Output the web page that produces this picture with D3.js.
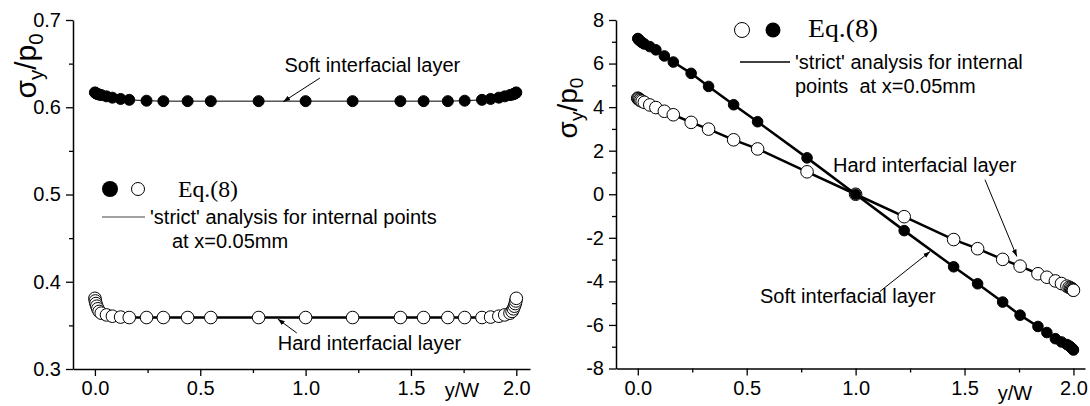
<!DOCTYPE html>
<html><head><meta charset="utf-8">
<script src="https://cdn.jsdelivr.net/npm/d3@7"></script>
<style>
html,body{margin:0;padding:0;background:#fff;}
svg text{fill:#000;}
</style></head>
<body><svg id="c" width="1090" height="406" font-family="Liberation Sans, Arial, sans-serif"></svg>
<script>
// ---------- data ----------
const yw = [0, 0.002, 0.005, 0.009, 0.014, 0.02, 0.03, 0.055, 0.083, 0.122, 0.163, 0.245, 0.325, 0.44, 0.55, 0.777, 1.0,
            1.223, 1.45, 1.56, 1.675, 1.755, 1.837, 1.878, 1.917, 1.945, 1.97, 1.98, 1.986, 1.991, 1.995, 1.998, 2.0];
const leftSoft = [0.617, 0.6165, 0.616, 0.6155, 0.615, 0.6145, 0.614, 0.6125, 0.611, 0.6095, 0.6085, 0.6075, 0.607, 0.607, 0.607, 0.607, 0.607,
                  0.607, 0.607, 0.607, 0.607, 0.6075, 0.6085, 0.6095, 0.611, 0.6125, 0.614, 0.6145, 0.615, 0.6155, 0.616, 0.6165, 0.617];
const leftHard = [0.381, 0.378, 0.375, 0.372, 0.369, 0.366, 0.364, 0.362, 0.3605, 0.3595, 0.359, 0.359, 0.359, 0.359, 0.359, 0.359, 0.359,
                  0.359, 0.359, 0.359, 0.359, 0.359, 0.359, 0.3595, 0.3605, 0.362, 0.364, 0.366, 0.369, 0.372, 0.375, 0.378, 0.381];
const rightSoft = [7.15, 7.12, 7.09, 7.05, 7.01, 6.96, 6.9, 6.78, 6.63, 6.35, 6.07, 5.55, 4.95, 4.11, 3.33, 1.67, 0,
                   -1.67, -3.33, -4.11, -4.95, -5.55, -6.07, -6.35, -6.63, -6.78, -6.9, -6.96, -7.01, -7.05, -7.09, -7.12, -7.15];
const rightHard = [4.41, 4.39, 4.36, 4.33, 4.3, 4.27, 4.22, 4.1, 3.98, 3.81, 3.65, 3.3, 2.99, 2.5, 2.08, 1.03, 0,
                   -1.03, -2.08, -2.5, -2.99, -3.3, -3.65, -3.81, -3.98, -4.1, -4.22, -4.27, -4.3, -4.33, -4.36, -4.39, -4.41];

const xMajor = [0, 0.5, 1.0, 1.5, 2.0];
const xMajorLabels = ["0.0", "0.5", "1.0", "1.5", "2.0"];
const xMinor = [0.25, 0.75, 1.25, 1.75];
const leftYMajor = [0.3, 0.4, 0.5, 0.6, 0.7];
const leftYLabels = ["0.3", "0.4", "0.5", "0.6", "0.7"];
const leftYMinor = [0.35, 0.45, 0.55, 0.65];
const rightYMajor = [-8, -6, -4, -2, 0, 2, 4, 6, 8];
const rightYLabels = ["-8", "-6", "-4", "-2", "0", "2", "4", "6", "8"];
const rightYMinor = [-7, -5, -3, -1, 1, 3, 5, 7];

const SANS = "Liberation Sans, Arial, sans-serif";
const SERIF = "Liberation Serif, Times New Roman, serif";

const svg = d3.select("#c");
const defs = svg.append("defs");
defs.append("marker").attr("id", "ah").attr("viewBox", "0 0 10 10").attr("refX", 10).attr("refY", 5)
  .attr("markerWidth", 7).attr("markerHeight", 7).attr("orient", "auto-start-reverse")
  .attr("markerUnits", "userSpaceOnUse")
  .append("path").attr("d", "M0,1.5 L10,5 L0,8.5 Z").attr("fill", "#000");

function drawAxes(g, x, y, yMaj, yLab, yMin) {
  g.append("g").attr("transform", `translate(0,${y.range()[0]})`)
    .call(d3.axisBottom(x).tickValues(xMajor).tickFormat((d, i) => xMajorLabels[i]).tickSize(7).tickSizeOuter(0).tickPadding(5));
  g.append("g").attr("transform", `translate(0,${y.range()[0]})`)
    .call(d3.axisBottom(x).tickValues(xMinor).tickFormat("").tickSize(4).tickSizeOuter(0))
    .select(".domain").remove();
  g.append("g").attr("transform", `translate(${x.range()[0]},0)`)
    .call(d3.axisLeft(y).tickValues(yMaj).tickFormat((d, i) => yLab[i]).tickSize(7).tickSizeOuter(0).tickPadding(5));
  g.append("g").attr("transform", `translate(${x.range()[0]},0)`)
    .call(d3.axisLeft(y).tickValues(yMin).tickFormat("").tickSize(4).tickSizeOuter(0))
    .select(".domain").remove();
  g.selectAll(".domain").attr("stroke", "#000").attr("stroke-width", 1.5);
  g.selectAll(".tick line").attr("stroke", "#000").attr("stroke-width", 1.3);
  g.selectAll(".tick text").attr("font-size", 20).attr("font-family", SANS).attr("fill", "#000");
}

function yLabel(g, cx, cy, size) {
  const t = g.append("text").attr("transform", `translate(${cx},${cy}) rotate(-90)`)
    .attr("text-anchor", "middle").attr("font-size", size).attr("font-family", SANS);
  t.append("tspan").text("σ");
  t.append("tspan").attr("font-size", size * 0.68).attr("dy", size * 0.22).text("y");
  t.append("tspan").attr("dy", -size * 0.22).text("/p");
  t.append("tspan").attr("font-size", size * 0.68).attr("dy", size * 0.22).text("0");
}

function series(g, x, y, vals, filled, lw, r) {
  const line = d3.line().x((d, i) => x(yw[i])).y(d => y(d));
  g.append("path").datum(vals).attr("d", line).attr("fill", "none").attr("stroke", "#000").attr("stroke-width", lw);
  g.selectAll(null).data(vals).enter().append("circle")
    .attr("cx", (d, i) => x(yw[i])).attr("cy", d => y(d)).attr("r", r)
    .attr("fill", filled ? "#000" : "#fff").attr("stroke", "#000").attr("stroke-width", 1);
}

function arrow(g, x, y, x1, y1, x2, y2) {
  g.append("line").attr("x1", x(x1)).attr("y1", y(y1)).attr("x2", x(x2)).attr("y2", y(y2))
    .attr("stroke", "#000").attr("stroke-width", 1).attr("marker-end", "url(#ah)");
}

function txt(g, px, py, s, size, family) {
  return g.append("text").attr("x", px).attr("y", py).attr("font-size", size)
    .attr("font-family", family || SANS).style("white-space", "pre").text(s);
}

// ---------- left panel ----------
{
  const g = svg.append("g");
  const x = d3.scaleLinear().domain([-0.104, 2.065]).range([73, 530]);
  const y = d3.scaleLinear().domain([0.3, 0.7]).range([369, 20]);
  drawAxes(g, x, y, leftYMajor, leftYLabels, leftYMinor);
  yLabel(g, 36, 66, 30);
  txt(g, 462, 397, "y/W", 20).attr("text-anchor", "middle");
  series(g, x, y, leftSoft, true, 1, 5.5);
  series(g, x, y, leftHard, false, 2.5, 6.3);
  // annotations
  txt(g, x(0.90), y(0.640), "Soft interfacial layer", 20);
  arrow(g, x, y, 1.068, 0.6335, 0.894, 0.6064);
  txt(g, x(0.868), y(0.3218), "Hard interfacial layer", 20);
  arrow(g, x, y, 0.958, 0.3413, 0.868, 0.3573);
  // legend
  g.append("circle").attr("cx", 110).attr("cy", 189).attr("r", 8).attr("fill", "#000");
  g.append("circle").attr("cx", 138).attr("cy", 189).attr("r", 6.5).attr("fill", "#fff").attr("stroke", "#000").attr("stroke-width", 1);
  txt(g, 178, 197, "Eq.(8)", 23, SERIF).attr("textLength", 60).attr("lengthAdjust", "spacingAndGlyphs");
  g.append("line").attr("x1", 102).attr("x2", 145).attr("y1", 217).attr("y2", 217).attr("stroke", "#444").attr("stroke-width", 1);
  txt(g, 150, 224, "'strict' analysis for internal points", 20);
  txt(g, 172, 248, "at x=0.05mm", 20);
}

// ---------- right panel ----------
{
  const g = svg.append("g");
  const x = d3.scaleLinear().domain([-0.1, 2.053]).range([616, 1085]);
  const y = d3.scaleLinear().domain([-8, 8]).range([368.5, 20]);
  drawAxes(g, x, y, rightYMajor, rightYLabels, rightYMinor);
  yLabel(g, 577, 108, 28);
  txt(g, 1015, 400, "y/W", 20).attr("text-anchor", "middle");
  series(g, x, y, rightHard, false, 2.5, 6.3);
  series(g, x, y, rightSoft, true, 2.5, 5.3);
  txt(g, x(0.896), y(1.03), "Hard interfacial layer", 20);
  arrow(g, x, y, 1.594, 0.666, 1.74, -2.856);
  txt(g, x(0.561), y(-4.98), "Soft interfacial layer", 20);
  arrow(g, x, y, 1.112, -4.46, 1.342, -2.63);
  // legend
  g.append("circle").attr("cx", 742).attr("cy", 30).attr("r", 7.5).attr("fill", "#fff").attr("stroke", "#000").attr("stroke-width", 1);
  g.append("circle").attr("cx", 773).attr("cy", 30).attr("r", 7.5).attr("fill", "#000");
  txt(g, 808, 37, "Eq.(8)", 25, SERIF).attr("textLength", 70).attr("lengthAdjust", "spacingAndGlyphs");
  g.append("line").attr("x1", 740).attr("x2", 790).attr("y1", 62).attr("y2", 62).attr("stroke", "#000").attr("stroke-width", 1.3);
  txt(g, 795, 69, "'strict' analysis for internal", 20);
  txt(g, 795, 93, "points  at x=0.05mm", 20);
}
</script></body></html>
